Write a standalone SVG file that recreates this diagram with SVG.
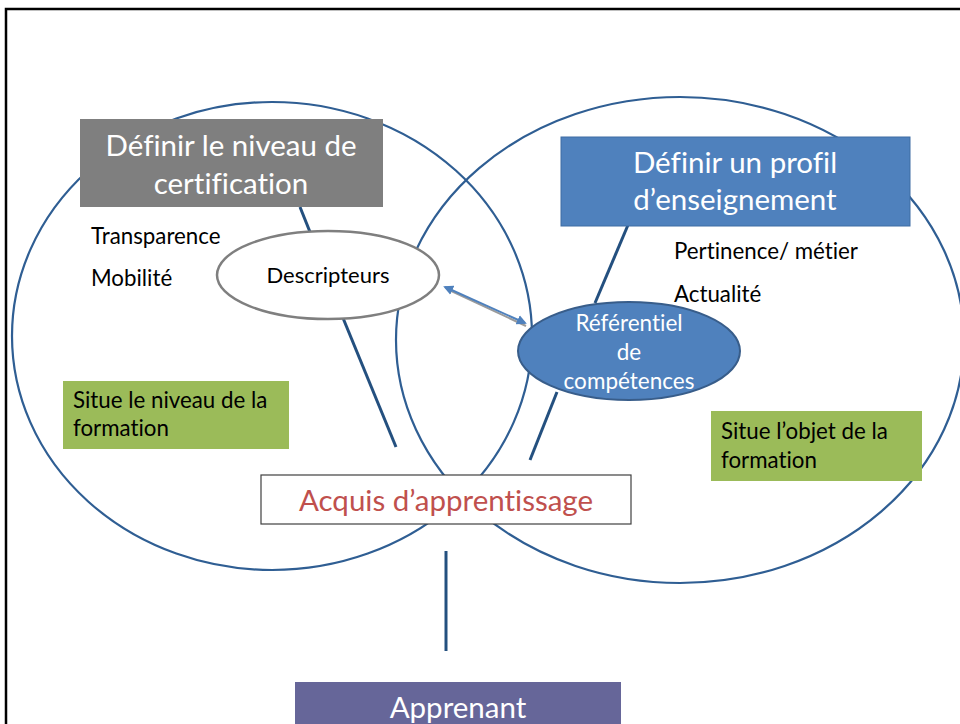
<svg xmlns="http://www.w3.org/2000/svg" width="960" height="724" viewBox="0 0 960 724">
<style>
text{font-family:Lato,"Open Sans","Liberation Sans",sans-serif;font-variant-ligatures:none;font-feature-settings:"liga" 0,"dlig" 0}
.ring{fill:none;stroke:#2f5e93;stroke-width:2.2}
.link{stroke:#24507f;stroke-width:3;fill:none}
.w{fill:#fff}
.k{fill:#000;font-size:22.3px}
.head{font-size:29.5px;text-anchor:middle;fill:#fff}
</style>
<defs>
<marker id="ah" viewBox="0 0 10 10" refX="8" refY="5" markerWidth="5" markerHeight="5" orient="auto-start-reverse">
<path d="M0,0 L10,5 L0,10 z" fill="#4f81bd"/>
</marker>
</defs>
<rect x="0" y="0" width="960" height="724" fill="#fff"/>
<path d="M6,724 V9 H960" fill="none" stroke="#000" stroke-width="2.5"/>

<g id="circles">
<ellipse class="ring" cx="272" cy="336" rx="260" ry="234"/>
<ellipse class="ring" cx="680" cy="340" rx="284" ry="243"/>
</g>

<g id="connectors">
<line class="link" x1="300" y1="207" x2="310" y2="232"/>
<line class="link" x1="343" y1="318" x2="396" y2="447"/>
<line class="link" x1="628" y1="225" x2="595" y2="303"/>
<line class="link" x1="557" y1="392" x2="530" y2="460"/>
<line class="link" x1="446" y1="551" x2="446" y2="651"/>
<line x1="447" y1="289" x2="526" y2="326" stroke="#9a9a9a" stroke-width="2"/>
<line x1="445" y1="287" x2="525" y2="323" stroke="#4f81bd" stroke-width="2" marker-start="url(#ah)" marker-end="url(#ah)"/>
</g>

<g id="niveau">
<rect x="80" y="119" width="303" height="88" fill="#7f7f7f"/>
<text class="head" x="231" y="156">Définir le niveau de</text>
<text class="head" x="231" y="194">certification</text>
</g>

<g id="profil">
<rect x="561" y="137" width="349" height="89" fill="#4f81bd" stroke="#3f6da3" stroke-width="1"/>
<text class="head" x="735" y="173">Définir un profil</text>
<text class="head" x="735" y="210">d’enseignement</text>
</g>

<g id="descripteurs">
<ellipse cx="328" cy="275" rx="111" ry="44" fill="#fff" stroke="#7f7f7f" stroke-width="2.5"/>
<text x="328" y="283" font-size="22" text-anchor="middle">Descripteurs</text>
</g>

<g id="referentiel">
<ellipse cx="629" cy="351" rx="111" ry="49" fill="#4f81bd" stroke="#385d8a" stroke-width="2"/>
<text class="w" x="629" y="331" font-size="22.5" text-anchor="middle">Référentiel</text>
<text class="w" x="629" y="360" font-size="22.5" text-anchor="middle">de</text>
<text class="w" x="629" y="389" font-size="22.5" text-anchor="middle">compétences</text>
</g>

<g id="labels-left">
<text class="k" x="91" y="244">Transparence</text>
<text class="k" x="91" y="286">Mobilité</text>
</g>
<g id="labels-right">
<text class="k" x="674" y="259">Pertinence/ métier</text>
<text class="k" x="674" y="302">Actualité</text>
</g>

<g id="situe-niveau">
<rect x="63" y="381" width="226" height="68" fill="#9bbb59"/>
<text class="k" x="73" y="408">Situe le niveau de la</text>
<text class="k" x="73" y="436">formation</text>
</g>

<g id="situe-objet">
<rect x="711" y="411" width="211" height="70" fill="#9bbb59"/>
<text class="k" x="721" y="439">Situe l’objet de la</text>
<text class="k" x="721" y="468">formation</text>
</g>

<g id="acquis">
<rect x="261" y="475" width="370" height="49" fill="#fff" stroke="#404040" stroke-width="1.2"/>
<text x="446" y="511" font-size="29.5" text-anchor="middle" fill="#c0504d">Acquis d’apprentissage</text>
</g>

<g id="apprenant">
<rect x="295" y="682" width="326" height="50" fill="#666699"/>
<text class="head" x="458" y="718">Apprenant</text>
</g>
</svg>
